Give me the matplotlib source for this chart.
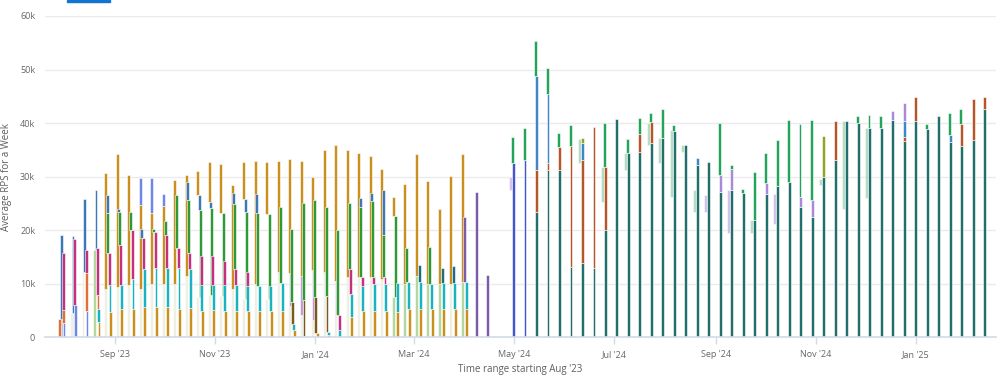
import numpy as np
import matplotlib.pyplot as plt
import matplotlib.dates as mdates
from matplotlib.ticker import FuncFormatter
from matplotlib.patches import Rectangle

plt.rcParams['font.family'] = ['Open Sans', 'DejaVu Sans']

# weekly buckets, values in thousands of requests per second
start = np.datetime64('2023-07-31')
left_weeks = start + np.arange(38) * np.timedelta64(7, 'D')
right_weeks = start + np.arange(38, 81) * np.timedelta64(7, 'D')

# ---- Aug '23 - Apr '24, left stack (faded bottom + gold) ----
pale_a = [0, 4.5, 12.3, 0, 9, 9.5, 9.7, 9, 10, 10, 10, 11.5, 7.5, 7.9, 7.8, 9, 7.2, 10, 7.2, 12.3,
          5.9, 4.1, 3.2, 12.3, 4.4, 11.3, 11.3, 11.3, 11, 0, 0, 0, 0, 0, 10, 0, 0, 0]
lime_a = [0, 0, 0, 16.4, 0, 0, 0, 0, 0, 0, 0, 0, 0, 0, 0, 0, 0, 0, 0, 0,
          0, 0, 0, 0, 0, 0, 0, 0, 0, 7.5, 10, 11.5, 10, 10, 0, 10.3, 0, 0]
orange_a = [3.4] + [0] * 37
lilac_a = [0] * 20 + [6.1, 7.3, 9.3, 0, 6.2] + [0] * 13
green_a = [0] * 12 + [16.3, 16.2, 15.4, 0, 16.2, 0, 15.8] + [0] * 10 + [15.1] + [0] * 8
steel_a = [15.7, 14.5, 13.6, 11.2] + [0] * 8 + [2.7, 1.1, 0, 0, 2.5] + [0] * 21
gold_a = [0, 0, 0, 0, 21.7, 24.7, 20.6, 15.8, 13.2, 14.6, 19.3, 18.9, 4.5, 7.5, 9.1, 19.4, 6.8, 23, 9.7, 20.7,
          21.3, 21.6, 17.5, 22.7, 25.4, 23.7, 23.2, 22.5, 20.5, 3.6, 18.7, 22.7, 19.2, 13.9, 20.1, 24, 0, 0]
royal_a = [0] * 7 + [4.9, 6.5, 2.1] + [0] * 28
sky_fade = [18, 16.8] + [0] * 36

# ---- Aug '23 - Apr '24, right stack ----
gold_b = [0, 0, 0, 2.9, 4.8, 5.3, 5.4, 5.6, 5.6, 5.7, 5.4, 5.5, 5, 5.2, 5, 4.9, 4.9, 5, 4.9, 4.9,
          1.3, 0.3, 0.8, 0.5, 0, 3.9, 4.9, 4.9, 5, 4.8, 5.3, 5.3, 5.3, 5.3, 5.3, 5.3, 0, 0]
royal_b = [2.7, 6, 5] + [0] * 35
cyan_b = [0, 0, 0, 2.4, 4.9, 4.4, 5.6, 7.2, 7.3, 7.3, 7.5, 7.2, 4.7, 4.6, 4.8, 4.8, 4.7, 4.6, 4.7, 5.2,
          1.2, 0, 0, 0.6, 1.4, 4.2, 4.7, 5.1, 5, 5.4, 5, 5, 4.7, 4.8, 4.8, 5, 0, 0]
brown_b = [0] * 20 + [4.1, 6.6, 6.7, 6.7] + [0] * 14
orange_b = [2.5, 0, 7.1, 2.6] + [0] * 34
magenta_b = [10.5, 12.3, 4.3, 8.7, 6.1, 7.6, 9, 5.8, 6.8, 6.1, 3.8, 3.1, 5.5, 5.4, 4.4, 3, 2.6, 0, 0, 0,
             0, 0, 0, 0, 2.7, 4.7, 1.6, 1.3, 1.2, 0, 0, 0, 0, 0, 0, 0, 0, 0]
teal_b = [0] * 31 + [3.3, 0, 2.9, 3.2, 0, 0, 0]
green_b = [0, 0, 0, 0, 7.5, 6.2, 3.4, 0, 0.5, 2.6, 9.8, 9.9, 0, 0, 0, 12.2, 0, 13.7, 0, 14.3,
           13.7, 18.1, 18.1, 16.6, 15.9, 12.2, 13.2, 14.2, 8, 0, 6.3, 0, 6.9, 0, 0, 0, 0, 0]
steel_b = [0, 0, 0, 0, 3.2, 0.5, 0, 1.6, 0, 0, 0, 3.3, 0, 0, 0, 2, 0, 3.4, 0, 0,
           0, 0, 0, 0, 0, 0, 1.6, 1.5, 8.4, 0, 0, 0, 0, 0, 0, 0, 0, 0]
purple_b = [0] * 35 + [12.1, 27.2, 11.7]

# ---- Apr '24 - Feb '25 ----
indigo_r = [0, 32.5, 33.2] + [0] * 40
teal_r = [0, 0, 0, 23.5, 31.3, 31.3, 13.1, 13.8, 12.9, 20, 40.7, 34.4, 34.7, 36.3, 37.2, 38.5, 35.9, 32.2, 32.8, 27.2,
          27.5, 26.9, 22, 26.7, 28.3, 29.1, 24.4, 22.5, 29.9, 33.1, 40.4, 40.1, 39.1, 39.1, 40.6, 36.7, 40.4, 38.9, 41.4, 36.4,
          35.8, 36.9, 42.6]
rust_r = [0, 0, 0, 7.8, 1.2, 4.2, 22.7, 19.4, 26.4, 11.8, 0, 0, 3.2, 3.9, 0, 0, 0, 0, 0, 0,
          0, 0, 0, 0, 0, 0, 0, 0, 0, 7.3, 0, 0, 0, 0, 0, 0.8, 4.5, 0, 0, 0,
          4.1, 7.6, 2.3]
blue_r = [0, 0, 0, 17.5, 12.9, 0, 0, 3, 0, 0, 0, 0, 0, 0, 0, 0, 0, 1.3, 0, 0,
          0, 0, 0, 0, 0, 0, 0, 0, 0, 0, 0, 0, 0, 0, 0, 2.9, 0, 0, 0, 1.4,
          0, 0, 0]
lilac_r = [0] * 19 + [3.1, 4, 0, 0, 2.2, 0, 0, 1.8, 3.1] + [0] * 6 + [1.6, 3.4] + [0] * 7
olive_r = [0] * 7 + [1] + [0] * 20 + [7.7] + [0] * 14
green_r = [0, 5, 5.8, 6.5, 4.9, 2.6, 3.8, 0, 0, 8.3, 0, 2.6, 3, 1.6, 5.5, 1.1, 0, 0, 0, 9.8,
           0.7, 0.8, 8.8, 5.5, 8.6, 11.4, 13.7, 15, 0, 0, 0, 1.3, 2.4, 2.3, 0, 0, 0, 0.9, 0, 4,
           2.8, 0, 0]

mint_week = [45, 47, 49, 51, 52, 53, 54, 55, 60, 66, 68, 70]
mint_lo = [32.5, 25.3, 31.3, 36, 32.6, 26.2, 34.7, 23.5, 19.5, 28.4, 23.9, 26.1]
mint_hi = [37, 31.8, 34.4, 40, 37.2, 38.7, 35.9, 27.5, 22, 29.5, 40.4, 39.1]
lilacf_week = [39, 56, 58, 62]
lilacf_lo = [27.5, 23.5, 19.4, 21.2]
lilacf_hi = [30, 26.6, 27.5, 26.7]

PX = 0.609   # days per pixel
W = 1.75


def days(d):
    return (d - np.datetime64('1970-01-01')).astype(float)


def draw_stack(ax, x, layers):
    bottom = np.zeros(len(x))
    for vals, color, off in layers:
        v = np.array(vals, dtype=float) * 1000
        m = v > 0
        ax.bar(x[m] + off * PX, v[m], bottom=bottom[m], width=W, color=color,
               edgecolor='white', linewidth=0.4, zorder=2)
        bottom = bottom + v


fig = plt.figure(figsize=(9.98, 3.8), dpi=100)
ax = fig.add_axes([0.045, 0.112, 0.953, 0.846])

xl = days(left_weeks)
xr = days(right_weeks)

# faded series behind
ax.bar(xl - 1 * PX, np.array(sky_fade) * 1000, width=W, color='#9cc4e4', alpha=0.75,
       edgecolor='white', linewidth=0.4, zorder=1)
wk_all = days(start + np.arange(81) * np.timedelta64(7, 'D'))
mw = wk_all[mint_week]
ax.bar(mw, (np.array(mint_hi) - np.array(mint_lo)) * 1000, bottom=np.array(mint_lo) * 1000,
       width=W, color='#a3d5b4', alpha=0.8, edgecolor='white', linewidth=0.4, zorder=1)
lw_ = wk_all[lilacf_week]
ax.bar(lw_, (np.array(lilacf_hi) - np.array(lilacf_lo)) * 1000, bottom=np.array(lilacf_lo) * 1000,
       width=W, color='#cdb8ec', alpha=0.85, edgecolor='white', linewidth=0.4, zorder=1)

draw_stack(ax, xl, [
    (pale_a, '#edf0e3', -2.5),
    (lime_a, '#b5d79f', -2.5),
    (orange_a, '#e0703a', -3.2),
    (lilac_a, '#c59ad8', -2.0),
    (green_a, '#2f9a35', 0.0),
    (steel_a, '#3d78b4', -1.0),
    (gold_a, '#c99020', -2.5),
    (royal_a, '#6e86e6', -2.5),
])
draw_stack(ax, xl, [
    (gold_b, '#c99020', 2.0),
    (royal_b, '#6e86e6', 1.5),
    (cyan_b, '#19b2c0', 1.6),
    (brown_b, '#7a5a1c', 0.3),
    (orange_b, '#e0703a', 1.0),
    (magenta_b, '#c2307f', 0.9),
    (teal_b, '#1b6e80', 0.5),
    (green_b, '#2f9a35', -0.5),
    (steel_b, '#3d78b4', -1.0),
    (purple_b, '#7b5aa6', 0.3),
])
draw_stack(ax, xr, [
    (indigo_r, '#4656c8', 3.0),
    (teal_r, '#216f6b', 3.0),
    (rust_r, '#b4552a', 3.0),
    (blue_r, '#3f86c6', 3.0),
    (lilac_r, '#a98ad6', 3.0),
    (olive_r, '#8ea526', 3.0),
    (green_r, '#22a55a', 2.3),
])

sep1 = days(np.datetime64('2023-09-01'))
ax.set_xlim(sep1 - 42.7, sep1 + 536.8)
ax.set_ylim(0, 60000)

ax.xaxis.set_major_locator(mdates.MonthLocator(bymonth=[1, 3, 5, 7, 9, 11]))
ax.xaxis.set_major_formatter(mdates.DateFormatter("%b '%y"))
ax.yaxis.set_major_formatter(FuncFormatter(lambda v, p: '0' if v == 0 else '%dk' % (v / 1000)))
ax.set_yticks(np.arange(0, 60001, 10000))

ax.grid(axis='y', color='#ebebeb', linewidth=1, zorder=0)
ax.set_axisbelow(True)
for s in ['top', 'right', 'left']:
    ax.spines[s].set_visible(False)
ax.spines['bottom'].set_color('#d3dae8')
ax.spines['bottom'].set_linewidth(1.2)
ax.tick_params(axis='y', length=0, pad=7, labelsize=6.5, labelcolor='#666666')
ax.tick_params(axis='x', length=5, width=1, color='#d3dae8', pad=4, labelsize=6.5, labelcolor='#666666')

ax.set_xlabel("Time range starting Aug '23", fontsize=7, color='#605e5c', labelpad=4)
ax.set_ylabel('Average RPS for a Week', fontsize=7, color='#605e5c', labelpad=6)

fig.patches.append(Rectangle((67 / 998, 1 - 2 / 380), 43 / 998, 2 / 380, transform=fig.transFigure,
                             color='#1174d0', zorder=5))

fig.savefig('out.png', dpi=100)
